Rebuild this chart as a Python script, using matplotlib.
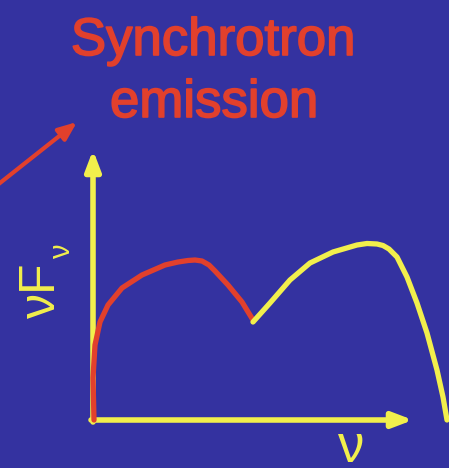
import matplotlib
matplotlib.use("Agg")
import matplotlib.pyplot as plt
import matplotlib.patheffects as pe

# Sketch of a synchrotron + inverse-Compton spectral energy distribution
BG = "#3432a0"
RED = "#e2402c"
YELLOW = "#f2ef4c"

# Synchrotron hump (low-frequency component)
sync_x = [1, 0, 2, 7, 15, 29, 49, 72, 85, 95, 102, 109, 116, 122, 135, 149, 160]
sync_y = [0, 42, 75, 98, 115, 132, 145, 155, 158, 159.5, 160, 159, 155, 149, 135, 118, 100]

# Second hump (high-frequency component)
ic_x = [160, 177, 197, 217, 240, 264, 274, 284, 290, 296, 304, 314, 324, 334, 344, 350, 354]
ic_y = [98, 117, 140, 157, 168, 175, 176.5, 176, 174.5, 171, 163, 143, 117, 87, 50, 23, 0]

title_lines = ["Synchrotron", "emission"]
x_label = "ν"
y_label = "νF"
y_label_sub = "ν"

fig = plt.figure(figsize=(4.49, 4.68), dpi=100)
fig.patch.set_facecolor(BG)
ax = fig.add_axes([0, 0, 1, 1])
ax.set_facecolor(BG)
ax.set_xlim(-93, 356)
ax.set_ylim(-48, 420)
ax.axis("off")

font = "Liberation Sans"

# Axes drawn as arrows
arrow_style = "-|>,head_length=1.0,head_width=0.38"
ax.annotate("", xy=(0, 270), xytext=(0, -2),
            arrowprops=dict(arrowstyle=arrow_style, color=YELLOW, lw=4,
                            shrinkA=0, shrinkB=0, mutation_scale=12))
ax.annotate("", xy=(320, 0), xytext=(-2, 0),
            arrowprops=dict(arrowstyle=arrow_style, color=YELLOW, lw=4,
                            shrinkA=0, shrinkB=0, mutation_scale=12))

# Spectral components
ax.plot(sync_x, sync_y, color=RED, lw=3.8, solid_capstyle="round",
        solid_joinstyle="round", zorder=3)
ax.plot(ic_x, ic_y, color=YELLOW, lw=3.8, solid_capstyle="round",
        solid_joinstyle="round", zorder=3)

# Pointer arrow from the left
ax.annotate("", xy=(-16, 298), xytext=(-112, 222),
            arrowprops=dict(arrowstyle="-|>,head_length=1.1,head_width=0.45",
                            color=RED, lw=3, shrinkA=0, shrinkB=0,
                            mutation_scale=10))

# Title, with a thin outline to give heavier strokes
bold = [pe.withStroke(linewidth=1.2, foreground=RED)]
ax.text(120, 365, title_lines[0], color=RED, fontsize=38, family=font,
        ha="center", va="baseline", path_effects=bold)
ax.text(121, 303, title_lines[1], color=RED, fontsize=38, family=font,
        ha="center", va="baseline", path_effects=bold)

# Axis labels
ax.text(258, -42, x_label, color=YELLOW, fontsize=38, family=font,
        ha="center", va="baseline")
ax.text(-38, 130, y_label, color=YELLOW, fontsize=36, family=font,
        ha="center", va="baseline", rotation=90, rotation_mode="anchor")
ax.text(-23, 168, y_label_sub, color=YELLOW, fontsize=21, family=font,
        ha="center", va="baseline", rotation=90, rotation_mode="anchor")

fig.savefig("out.png", dpi=100, facecolor=BG)
